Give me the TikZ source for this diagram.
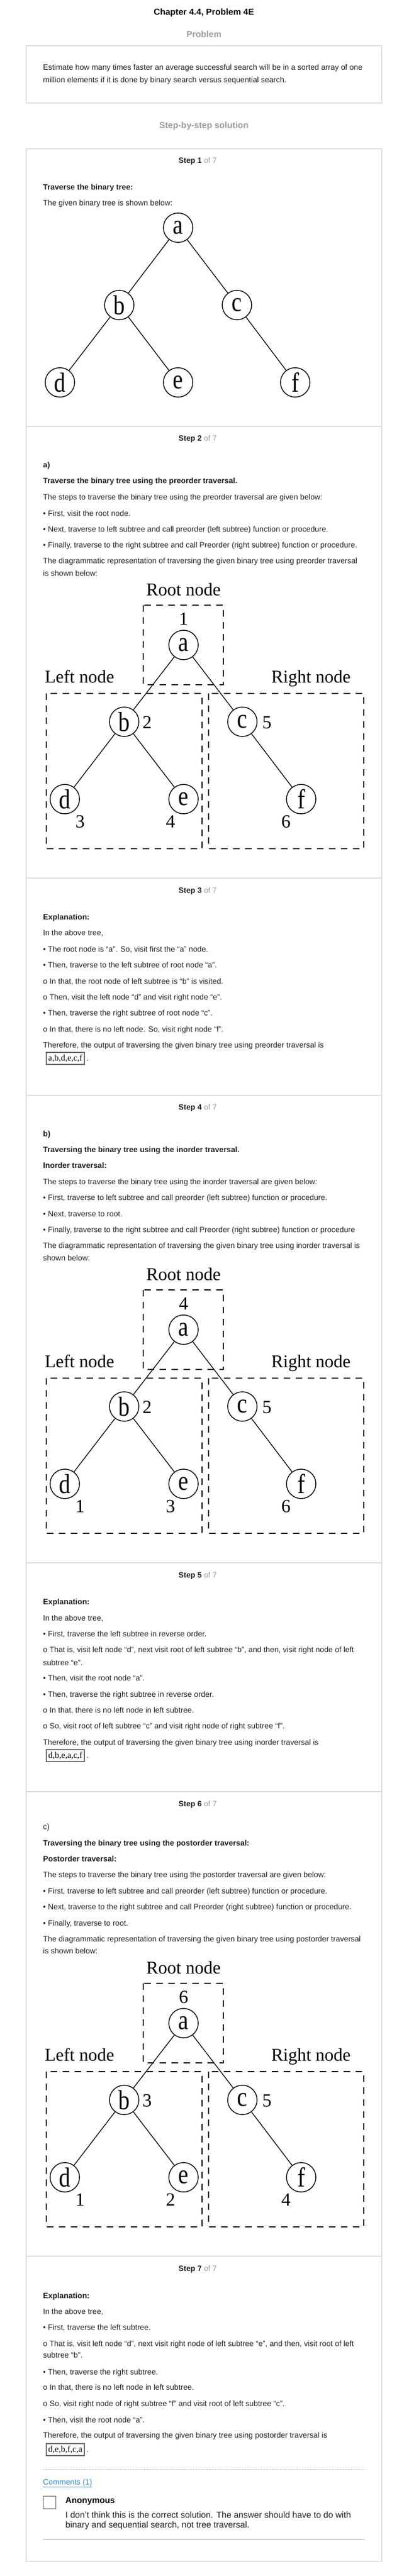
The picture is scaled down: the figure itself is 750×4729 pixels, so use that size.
\documentclass[tikz,border=0pt]{standalone}
\usepackage{fontspec}
\usepackage{graphicx}
\setmainfont{Liberation Sans}
\newfontfamily\serifx{Liberation Serif}
\definecolor{txtc}{HTML}{222222}
\definecolor{grayt}{HTML}{9C9C9C}
\definecolor{framec}{HTML}{DDDDDD}
\definecolor{linkc}{HTML}{2E8BC9}
\newcommand\tlt[1]{\scalebox{1}[1.2]{\serifx\fontsize{42}{42}\selectfont #1}}
\tikzset{
  txt/.style={anchor=west, inner sep=0pt, text height=10.2pt, text depth=0pt, font=\fontsize{14.2}{16}\selectfont, text=txtc},
  btxt/.style={txt, font=\fontsize{14.2}{16}\selectfont\bfseries},
  ttl/.style={anchor=center, inner sep=0pt, text height=11.5pt, text depth=0pt, font=\fontsize{16}{18}\selectfont\bfseries, text=black},
  ttlg/.style={ttl, text=grayt},
  steplab/.style={anchor=center, inner sep=0pt, text height=10.2pt, text depth=0pt, font=\fontsize{14.2}{16}\selectfont, text=txtc},
  frame/.style={draw=framec, line width=1.5pt},
  tnode/.style={circle, draw, line width=1.5pt, minimum size=54pt, inner sep=0pt},
  tedge/.style={line width=1.4pt},
  lab/.style={font=\serifx\fontsize{33}{33}\selectfont, inner sep=0pt},
  num/.style={font=\serifx\fontsize{34}{34}\selectfont, inner sep=0pt, anchor=base},
  dbox/.style={line width=2.2pt, dash pattern=on 12pt off 10pt},
  ansbox/.style={draw=black!60, line width=1.3pt, minimum width=70pt, minimum height=22pt, inner sep=0pt, font=\serifx\fontsize{16}{16}\selectfont},
  anon/.style={anchor=west, inner sep=0pt, text height=11.2pt, text depth=0pt, font=\fontsize{15.7}{18}\selectfont\bfseries, text=black},
  ctxt/.style={anchor=west, inner sep=0pt, text height=11.5pt, text depth=0pt, font=\fontsize{16}{18}\selectfont, text=txtc}
}
\newcommand\travtree[8]{%
\begin{scope}[shift={(0,#1)}, name prefix=#2-]
\node[lab, anchor=base] (rootlab) at (337,1093) {Root node};
\draw[dbox] (263,1111) rectangle (410,1257);
\node[num] (na) at (337,1147) {#3};
\node[tnode] (a) at (337,1184) {\tlt{a}};
\node[lab, anchor=base] (leftlab) at (146,1253) {Left node};
\node[lab, anchor=base] (rightlab) at (571,1253) {Right node};
\draw[dbox] (85,1273) rectangle (371,1558);
\draw[dbox] (383,1273) rectangle (668,1558);
\node[tnode] (b) at (228,1325) {\tlt{b}};
\node[tnode] (c) at (445,1325) {\tlt{c}};
\node[tnode] (d) at (119,1467) {\tlt{d}};
\node[tnode] (e) at (337,1467) {\tlt{e}};
\node[tnode] (f) at (553,1467) {\tlt{f}};
\node[num] (nb) at (270,1337) {#4};
\node[num] (nc) at (490,1337) {#5};
\node[num] (nd) at (147,1519) {#6};
\node[num] (ne) at (313,1519) {#7};
\node[num] (nf) at (525,1519) {#8};
\draw[tedge] (a) -- (b);
\draw[tedge] (a) -- (c);
\draw[tedge] (b) -- (d);
\draw[tedge] (b) -- (e);
\draw[tedge] (c) -- (f);
\end{scope}}
\begin{document}
\begin{tikzpicture}[x=1pt,y=-1pt]
\useasboundingbox[fill=white] (0,0) rectangle (750,4729);
% header
\node[ttl] (title) at (374.5,22) {Chapter 4.4, Problem 4E};
\node[ttlg] (probhead) at (374.5,63) {Problem};
\draw[frame] (48,84) rectangle (701,189);
\node[txt] (p1) at (79,123) {Estimate how many times faster an average successful search will be in a sorted array of one};
\node[txt] (p2) at (79,146) {million elements if it is done by binary search versus sequential search.};
\node[ttlg] (sbs) at (374.5,230) {Step-by-step solution};
% frames
\draw[frame] (48,273) rectangle (701,4702);
\foreach \yy in {783,1612,2011,2869,3289,4142} \draw[frame] (48,\yy) -- (701,\yy);
% step 1
\node[steplab] (st1) at (363,294) {\textbf{Step 1} \textcolor{grayt}{of 7}};
\node[btxt] (s1a) at (79,343) {Traverse the binary tree:};
\node[txt] (s1b) at (79,372) {The given binary tree is shown below:};
\node[tnode] (t1a) at (327,418) {\tlt{a}};
\node[tnode] (t1b) at (219,560) {\tlt{b}};
\node[tnode] (t1c) at (435,560) {\tlt{c}};
\node[tnode] (t1d) at (110,702) {\tlt{d}};
\node[tnode] (t1e) at (327,702) {\tlt{e}};
\node[tnode] (t1f) at (542,702) {\tlt{f}};
\draw[tedge] (t1a) -- (t1b);
\draw[tedge] (t1a) -- (t1c);
\draw[tedge] (t1b) -- (t1d);
\draw[tedge] (t1b) -- (t1e);
\draw[tedge] (t1c) -- (t1f);
% step 2
\node[steplab] (st2) at (363,804) {\textbf{Step 2} \textcolor{grayt}{of 7}};
\node[btxt] (s2a) at (79,853) {a)};
\node[btxt] (s2b) at (79,882) {Traverse the binary tree using the preorder traversal.};
\node[txt] (s2c) at (79,912) {The steps to traverse the binary tree using the preorder traversal are given below:};
\node[txt] (s2d) at (79,942) {• First, visit the root node.};
\node[txt] (s2e) at (79,971) {• Next, traverse to left subtree and call preorder (left subtree) function or procedure.};
\node[txt] (s2f) at (79,1000) {• Finally, traverse to the right subtree and call Preorder (right subtree) function or procedure.};
\node[txt] (s2g) at (79,1029) {The diagrammatic representation of traversing the given binary tree using preorder traversal};
\node[txt] (s2h) at (79,1052) {is shown below:};
\travtree{0}{pre}{1}{2}{5}{3}{4}{6}
% step 3
\node[steplab] (st3) at (363,1634) {\textbf{Step 3} \textcolor{grayt}{of 7}};
\node[btxt] (s3a) at (79,1683) {Explanation:};
\node[txt] (s3b) at (79,1712) {In the above tree,};
\node[txt] (s3c) at (79,1742) {• The root node is “a”. So, visit first the “a” node.};
\node[txt] (s3d) at (79,1771) {• Then, traverse to the left subtree of root node “a”.};
\node[txt] (s3e) at (79,1801) {o In that, the root node of left subtree is “b” is visited.};
\node[txt] (s3f) at (79,1830) {o Then, visit the left node “d” and visit right node “e”.};
\node[txt] (s3g) at (79,1859) {• Then, traverse the right subtree of root node “c”.};
\node[txt] (s3h) at (79,1889) {o In that, there is no left node. So, visit right node “f”.};
\node[txt] (s3i) at (79,1918) {Therefore, the output of traversing the given binary tree using preorder traversal is};
\node[ansbox] (ans1) at (120,1943) {a,b,d,e,c,f};
\node[txt, anchor=base west] (ans1p) at ([xshift=3pt]ans1.base east) {.};
% step 4
\node[steplab] (st4) at (363,2032) {\textbf{Step 4} \textcolor{grayt}{of 7}};
\node[btxt] (s4a) at (79,2081) {b)};
\node[btxt] (s4b) at (79,2110) {Traversing the binary tree using the inorder traversal.};
\node[btxt] (s4c) at (79,2139) {Inorder traversal:};
\node[txt] (s4d) at (79,2169) {The steps to traverse the binary tree using the inorder traversal are given below:};
\node[txt] (s4e) at (79,2198) {• First, traverse to left subtree and call preorder (left subtree) function or procedure.};
\node[txt] (s4f) at (79,2228) {• Next, traverse to root.};
\node[txt] (s4g) at (79,2257) {• Finally, traverse to the right subtree and call Preorder (right subtree) function or procedure};
\node[txt] (s4h) at (79,2286) {The diagrammatic representation of traversing the given binary tree using inorder traversal is};
\node[txt] (s4i) at (79,2309) {shown below:};
\travtree{1257}{ino}{4}{2}{5}{1}{3}{6}
% step 5
\node[steplab] (st5) at (363,2891) {\textbf{Step 5} \textcolor{grayt}{of 7}};
\node[btxt] (s5a) at (79,2940) {Explanation:};
\node[txt] (s5b) at (79,2970) {In the above tree,};
\node[txt] (s5c) at (79,2999) {• First, traverse the left subtree in reverse order.};
\node[txt] (s5d) at (79,3028) {o That is, visit left node “d”, next visit root of left subtree “b”, and then, visit right node of left};
\node[txt] (s5e) at (79,3052) {subtree “e”.};
\node[txt] (s5f) at (79,3080) {• Then, visit the root node “a”.};
\node[txt] (s5g) at (79,3110) {• Then, traverse the right subtree in reverse order.};
\node[txt] (s5h) at (79,3139) {o In that, there is no left node in left subtree.};
\node[txt] (s5i) at (79,3168) {o So, visit root of left subtree “c” and visit right node of right subtree “f”.};
\node[txt] (s5j) at (79,3198) {Therefore, the output of traversing the given binary tree using inorder traversal is};
\node[ansbox] (ans2) at (120,3223) {d,b,e,a,c,f};
\node[txt, anchor=base west] (ans2p) at ([xshift=3pt]ans2.base east) {.};
% step 6
\node[steplab] (st6) at (363,3311) {\textbf{Step 6} \textcolor{grayt}{of 7}};
\node[txt] (s6a) at (79,3353) {c)};
\node[btxt] (s6b) at (79,3383) {Traversing the binary tree using the postorder traversal:};
\node[btxt] (s6c) at (79,3412) {Postorder traversal:};
\node[txt] (s6d) at (79,3441) {The steps to traverse the binary tree using the postorder traversal are given below:};
\node[txt] (s6e) at (79,3471) {• First, traverse to left subtree and call preorder (left subtree) function or procedure.};
\node[txt] (s6f) at (79,3500) {• Next, traverse to the right subtree and call Preorder (right subtree) function or procedure.};
\node[txt] (s6g) at (79,3530) {• Finally, traverse to root.};
\node[txt] (s6h) at (79,3559) {The diagrammatic representation of traversing the given binary tree using postorder traversal};
\node[txt] (s6i) at (79,3581) {is shown below:};
\travtree{2530}{post}{6}{3}{5}{1}{2}{4}
% step 7
\node[steplab] (st7) at (363,4164) {\textbf{Step 7} \textcolor{grayt}{of 7}};
\node[btxt] (s7a) at (79,4214) {Explanation:};
\node[txt] (s7b) at (79,4243) {In the above tree,};
\node[txt] (s7c) at (79,4272) {• First, traverse the left subtree.};
\node[txt] (s7d) at (79,4302) {o That is, visit left node “d”, next visit right node of left subtree “e”, and then, visit root of left};
\node[txt] (s7e) at (79,4323) {subtree “b”.};
\node[txt] (s7f) at (79,4354) {• Then, traverse the right subtree.};
\node[txt] (s7g) at (79,4382) {o In that, there is no left node in left subtree.};
\node[txt] (s7h) at (79,4412) {o So, visit right node of right subtree “f” and visit root of left subtree “c”.};
\node[txt] (s7i) at (79,4442) {• Then, visit the root node “a”.};
\node[txt] (s7j) at (79,4470) {Therefore, the output of traversing the given binary tree using postorder traversal is};
\node[ansbox] (ans3) at (120,4497) {d,e,b,f,c,a};
\node[txt, anchor=base west] (ans3p) at ([xshift=3pt]ans3.base east) {.};
% comments
\draw[draw=black!25, line width=0.8pt, dash pattern=on 3pt off 2pt] (79,4533) -- (670,4533);
\node[txt, text=linkc] (cmts) at (79,4556) {\underline{Comments (1)}};
\draw[draw=black!65, line width=0.9pt] (79,4582) rectangle (102,4605);
\node[anon] (anon) at (120,4590) {Anonymous};
\node[ctxt] (cm1) at (120,4617) {I don't think this is the correct solution. The answer should have to do with};
\node[ctxt] (cm2) at (120,4635) {binary and sequential search, not tree traversal.};
\draw[draw=black!20, line width=1.5pt] (79,4662) -- (670,4662);
\end{tikzpicture}
\end{document}
